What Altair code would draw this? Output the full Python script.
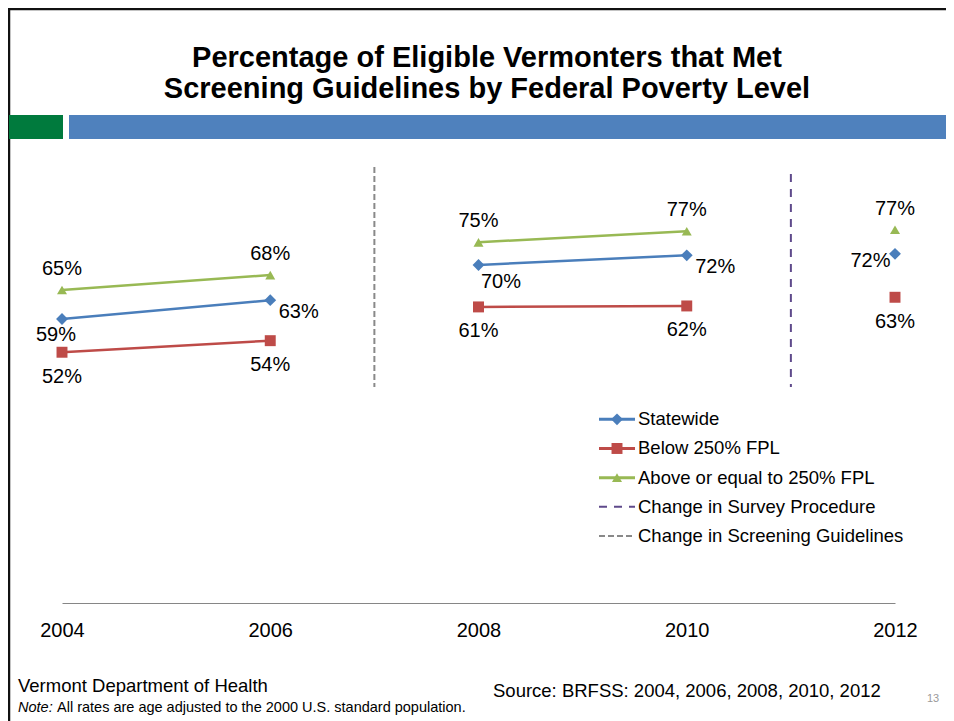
import altair as alt
import pandas as pd

# ---------------- data ----------------
years = [2004, 2006, 2008, 2010, 2012]
series_names = ["Statewide", "Below 250% FPL", "Above or equal to 250% FPL"]
statewide = [58.9, 62.8, 70.1, 72.1, 72.4]
below_250 = [52.0, 54.4, 61.4, 61.6, 63.4]
above_250 = [64.9, 68.0, 74.8, 77.1, 77.4]
statewide_label_pos = ["belowleft", "right", "belowright", "right", "left"]
below_label_pos = ["below", "below", "below", "below", "below"]
above_label_pos = ["above", "above", "above", "above", "above"]
event_names = ["Change in Survey Procedure", "Change in Screening Guidelines"]
event_years = [2011, 2007]
x_ticks = [2004, 2006, 2008, 2010, 2012]
title_lines = ["Percentage of Eligible Vermonters that Met",
               "Screening Guidelines by Federal Poverty Level"]
footer_org = "Vermont Department of Health"
footer_note_lead = "Note:"
footer_note = "All rates are age adjusted to the 2000 U.S. standard population."
footer_source = "Source: BRFSS: 2004, 2006, 2008, 2010, 2012"
page_number = "13"

# ---------------- styles ----------------
FONT = "Liberation Sans"
series_colors = ["#4A7EBB", "#BE4B48", "#98B954"]
event_colors = ["#5F4A8B", "#898989"]
event_dashes = [[8, 7], [6, 3]]
shapes = ["diamond", "square", "triangle-up"]
marker_sizes = [140, 100, 130]
W, H = 833, 434
PAD = {"left": 54, "top": 161, "right": 51, "bottom": 118}

rows = []
for name, vals, poss in zip(series_names, [statewide, below_250, above_250],
                            [statewide_label_pos, below_label_pos, above_label_pos]):
    for yr, v, p in zip(years, vals, poss):
        seg = sum(1 for e in event_years if e < yr)
        rows.append({"name": name, "year": yr, "value": v, "pos": p, "seg": seg})
df = pd.DataFrame(rows)
events = pd.DataFrame({"name": event_names, "year": event_years})
legend_names = series_names + event_names
legend_series = pd.DataFrame({"name": series_names})
legend_events = pd.DataFrame({"name": event_names})
legend_all = pd.DataFrame({"name": legend_names})
one = pd.DataFrame({"k": [0]})

xscale = alt.Scale(domain=[2004, 2012], nice=False, zero=False)
yscale = alt.Scale(domain=[0, 90], nice=False, zero=True)
xaxis = alt.Axis(values=x_ticks, format="d", title=None, grid=False, ticks=False, tickSize=0,
                 labelPadding=27, labelBaseline="middle", labelFontSize=20, labelFont=FONT,
                 labelColor="#000000", domainColor="#868686", domainWidth=1,
                 labelFlush=False, labelOverlap=False)
X = alt.X("year:Q", scale=xscale, axis=xaxis)
Y = alt.Y("value:Q", scale=yscale, axis=None)
color_all = alt.Color("name:N", scale=alt.Scale(domain=legend_names, range=series_colors + event_colors),
                      legend=None)
dash_enc = alt.StrokeDash("name:N", scale=alt.Scale(domain=event_names, range=event_dashes), legend=None)
shape_enc = alt.Shape("name:N", scale=alt.Scale(domain=series_names, range=shapes), legend=None)
size_enc = alt.Size("name:N", scale=alt.Scale(domain=series_names, range=marker_sizes), legend=None)
legend_y = alt.Y("name:N", scale=alt.Scale(type="point", domain=legend_names, range=[250.3, 367], padding=0),
                 axis=None)

# ---------------- decorations ----------------
border_left = alt.Chart(one).mark_rule(color="#111111", strokeWidth=2.5).encode(
    x=alt.value(-53), y=alt.value(-161), y2=alt.value(560))
border_top = alt.Chart(one).mark_rule(color="#111111", strokeWidth=2.5).encode(
    x=alt.value(-54), x2=alt.value(884), y=alt.value(-160))
banner_green = alt.Chart(one).mark_rect(color="#007A3D").encode(
    x=alt.value(-53), x2=alt.value(1), y=alt.value(-54), y2=alt.value(-30))
banner_blue = alt.Chart(one).mark_rect(color="#4F81BD").encode(
    x=alt.value(7), x2=alt.value(884), y=alt.value(-54), y2=alt.value(-30))
title1 = alt.Chart(one).mark_text(fontSize=29, fontWeight="bold", font=FONT, align="center",
                                  baseline="alphabetic", color="#000000").encode(
    x=alt.value(425), y=alt.value(-102), text=alt.value(title_lines[0]))
title2 = alt.Chart(one).mark_text(fontSize=29, fontWeight="bold", font=FONT, align="center",
                                  baseline="alphabetic", color="#000000").encode(
    x=alt.value(425), y=alt.value(-71), text=alt.value(title_lines[1]))

# ---------------- event lines ----------------
ev_survey = alt.Chart(events).transform_filter(alt.datum.name == event_names[0]).mark_rule(
    strokeWidth=2).encode(x=X, y=alt.value(5), y2=alt.value(218), color=color_all, strokeDash=dash_enc)
ev_screen = alt.Chart(events).transform_filter(alt.datum.name == event_names[1]).mark_rule(
    strokeWidth=2).encode(x=X, y=alt.value(-2), y2=alt.value(218), color=color_all, strokeDash=dash_enc)

# ---------------- series ----------------
lines = alt.Chart(df).mark_line(strokeWidth=2.5).encode(x=X, y=Y, color=color_all, detail="seg:N")
points = alt.Chart(df).mark_point(filled=True, opacity=1).encode(
    x=X, y=Y, color=color_all, shape=shape_enc, size=size_enc)

offsets = {"above": (0, -21), "below": (0, 24.5), "right": (28.5, 12),
           "belowright": (22.5, 17.5), "belowleft": (-6, 16), "left": (-24.5, 7)}
label_layers = []
for p, (dx, dy) in offsets.items():
    label_layers.append(
        alt.Chart(df).transform_filter(alt.datum.pos == p)
        .transform_calculate(label="format(datum.value, '.0f') + '%'")
        .mark_text(dx=dx, dy=dy, fontSize=20, font=FONT, color="#000000", baseline="middle", align="center")
        .encode(x=X, y=Y, text="label:N")
    )

# ---------------- legend ----------------
leg_series_rule = alt.Chart(legend_series).mark_rule(strokeWidth=3).encode(
    x=alt.value(537), x2=alt.value(573), y=legend_y, color=color_all)
leg_series_pt = alt.Chart(legend_series).mark_point(filled=True, opacity=1).encode(
    x=alt.value(555), y=legend_y, color=color_all, shape=shape_enc, size=size_enc)
leg_event_rule = alt.Chart(legend_events).mark_rule(strokeWidth=2).encode(
    x=alt.value(537), x2=alt.value(573), y=legend_y, color=color_all, strokeDash=dash_enc)
leg_text = alt.Chart(legend_all).mark_text(align="left", baseline="middle", fontSize=18.5, font=FONT,
                                           color="#000000").encode(
    x=alt.value(576), y=legend_y, text="name:N")

# ---------------- footer ----------------
f_org = alt.Chart(one).mark_text(align="left", baseline="alphabetic", fontSize=18.5, font=FONT,
                                 color="#000000").encode(
    x=alt.value(-44), y=alt.value(523), text=alt.value(footer_org))
f_note_lead = alt.Chart(one).mark_text(align="left", baseline="alphabetic", fontSize=14.5, font=FONT,
                                       fontStyle="italic", color="#000000").encode(
    x=alt.value(-44), y=alt.value(543), text=alt.value(footer_note_lead))
f_note = alt.Chart(one).mark_text(align="left", baseline="alphabetic", fontSize=14.5, font=FONT,
                                  color="#000000").encode(
    x=alt.value(-5), y=alt.value(543), text=alt.value(footer_note))
f_source = alt.Chart(one).mark_text(align="left", baseline="alphabetic", fontSize=18.5, font=FONT,
                                    color="#000000").encode(
    x=alt.value(431), y=alt.value(528), text=alt.value(footer_source))
f_page = alt.Chart(one).mark_text(align="center", baseline="alphabetic", fontSize=11, font=FONT,
                                  color="#9a9a9a").encode(
    x=alt.value(871), y=alt.value(533), text=alt.value(page_number))

layers = [border_left, border_top, banner_green, banner_blue, title1, title2,
          ev_survey, ev_screen, lines, points] + label_layers + [
    leg_series_rule, leg_series_pt, leg_event_rule, leg_text,
    f_org, f_note_lead, f_note, f_source, f_page]

chart = (
    alt.layer(*layers)
    .resolve_scale(y="independent")
    .properties(width=W, height=H, padding=PAD, autosize=alt.AutoSizeParams(type="none"),
                background="white")
    .configure_view(stroke=None)
)

chart.save("out.html", embed_options={"renderer": "svg", "actions": False})
